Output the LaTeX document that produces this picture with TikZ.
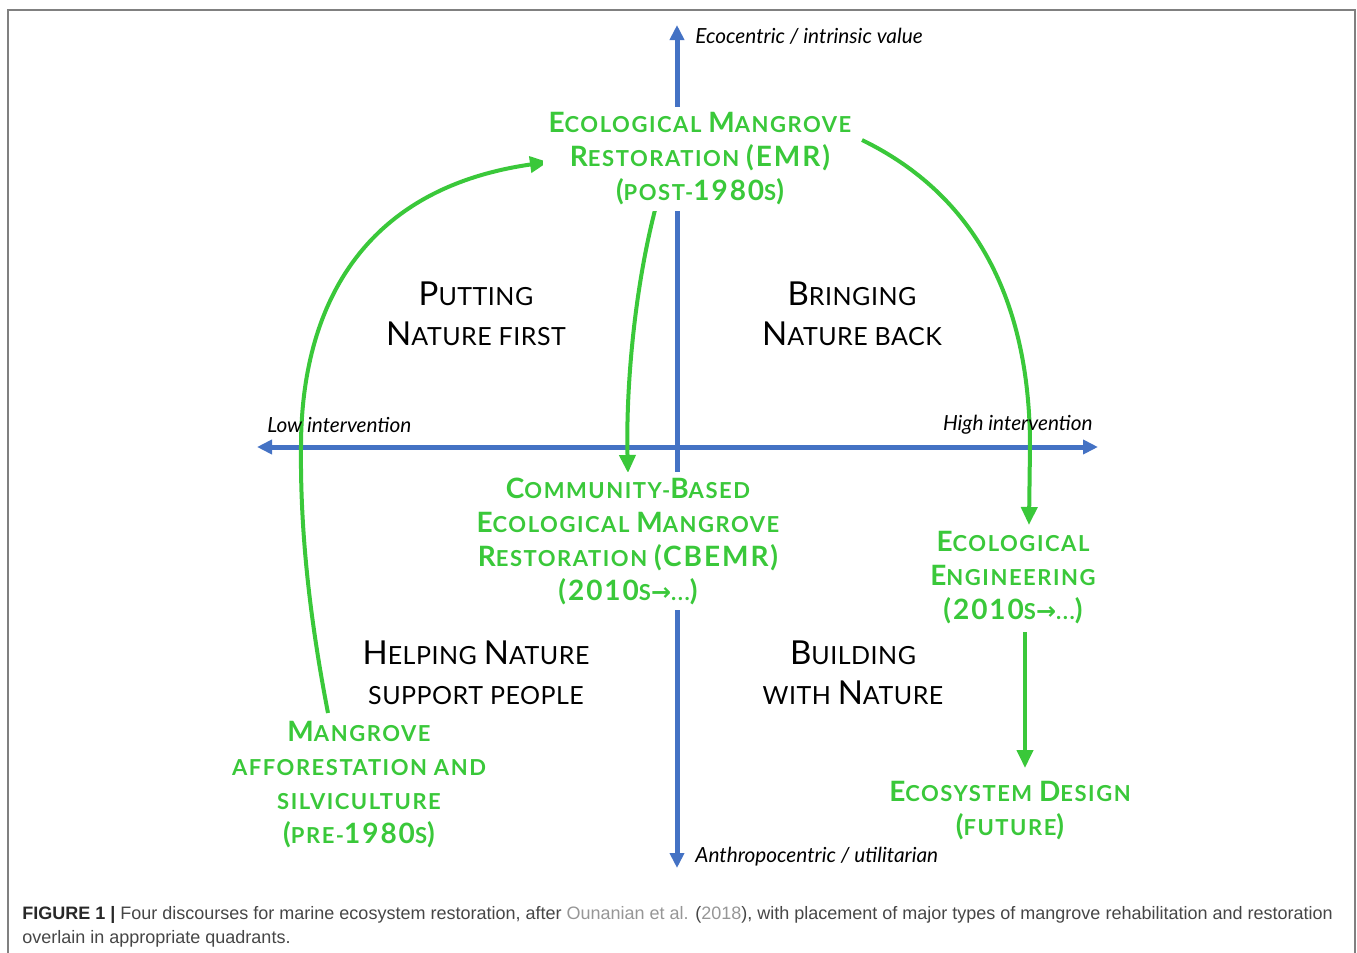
\documentclass[tikz,border=0pt]{standalone}
\usepackage{fontspec}
\setmainfont{Lato}
\newfontfamily\gfont[LetterSpace=7]{Lato}
\newfontfamily\kfont[LetterSpace=2]{Lato}
\newfontfamily\capfont{Liberation Sans}
\newfontfamily\arrfont{DejaVu Sans}
\usetikzlibrary{arrows.meta}
\definecolor{axblue}{RGB}{68,114,196}
\definecolor{mgreen}{RGB}{58,200,58}
\definecolor{frameg}{RGB}{128,128,128}
\definecolor{capdark}{RGB}{40,40,40}
\definecolor{capgray}{RGB}{70,70,70}
\definecolor{caplink}{RGB}{150,150,150}
\newcommand\Gb[1]{{\fontsize{14}{14}\selectfont #1}}
\newcommand\Kb[1]{{\fontsize{16.5}{16.5}\selectfont #1}}
\newcommand\Arr{{\fontsize{12}{12}\selectfont\arrfont\bfseries →}}
\tikzset{
  gtext/.style={text=mgreen, align=center, font=\gfont\fontsize{11}{17}\selectfont\bfseries, inner sep=3pt},
  ktext/.style={text=black, align=center, font=\kfont\fontsize{12.5}{20}\selectfont},
  axlabel/.style={text=black, font=\itshape\fontsize{10.4}{11}\selectfont, inner sep=0pt},
  axis/.style={draw=axblue, line width=2.5pt, -{Triangle[length=7.5pt,width=7pt]}},
  garrow/.style={draw=mgreen, line width=2pt, -{Triangle[length=9pt,width=8pt]}},
  captext/.style={font=\capfont\fontsize{9}{11}\selectfont, inner sep=0pt, text=capgray}
}
\begin{document}
\begin{tikzpicture}[x=0.5pt,y=-0.5pt]
\useasboundingbox (0,0) rectangle (1357,953);
% frame
\draw[frameg, line width=1pt] (8,953) -- (8,10) -- (1355,10) -- (1355,953);
% axes
\coordinate (axtop) at (677,25);
\coordinate (axbot) at (677,868);
\coordinate (axleft) at (257,447);
\coordinate (axright) at (1098,447);
\coordinate (axc) at (677,447);
\draw[axis] (axc) -- (axtop);
\draw[axis] (axc) -- (axbot);
\draw[axis] (axc) -- (axleft);
\draw[axis] (axc) -- (axright);
% green arrows (free ends as coordinates)
\coordinate (a1s) at (328,713);
\coordinate (a1m) at (301,447);
\coordinate (a1e) at (548,162);
\coordinate (a2s) at (862,140);
\coordinate (a2m) at (1030,447);
\coordinate (a2e) at (1029,525);
\coordinate (a3s) at (655,210);
\coordinate (a3e) at (628,473);
\coordinate (a4s) at (1025,632);
\coordinate (a4e) at (1025,768);
\draw[garrow] (a1s) .. controls (312,630) and (300,540) .. (a1m) .. controls (301,320) and (352,190) .. (a1e);
\draw[garrow] (a2s) .. controls (975,195) and (1030,300) .. (a2m) -- (a2e);
\draw[garrow] (a3s) .. controls (632,300) and (626,400) .. (a3e);
\draw[garrow] (a4s) -- (a4e);
% axis labels
\node[axlabel, anchor=west] (eco) at (695,36) {Ecocentric / intrinsic value};
\node[axlabel, anchor=west] (low) at (267,425) {Low intervention};
\node[axlabel, anchor=east] (high) at (1093,425) {High intervention};
\node[axlabel, anchor=west] (anth) at (695,857) {Anthropocentric / utilitarian};
% green nodes
\node[gtext, fill=white] (emr) at (700,159) {\Gb{E}COLOGICAL \Gb{M}ANGROVE\\\Gb{R}ESTORATION \Gb{(EMR)}\\\Gb{(}POST-\Gb{1980}S\Gb{)}};
\node[gtext, fill=white] (cbemr) at (628,541) {\Gb{C}OMMUNITY-\Gb{B}ASED\\\Gb{E}COLOGICAL \Gb{M}ANGROVE\\\Gb{R}ESTORATION \Gb{(CBEMR)}\\\Gb{(2010}S\Arr...\Gb{)}};
\node[gtext] (eeng) at (1013,578) {\Gb{E}COLOGICAL\\\Gb{E}NGINEERING\\\Gb{(2010}S\Arr...\Gb{)}};
\node[gtext] (edes) at (1010,811) {\Gb{E}COSYSTEM \Gb{D}ESIGN\\\Gb{(}FUTURE\Gb{)}};
\node[gtext] (maf) at (359,785) {\Gb{M}ANGROVE\\AFFORESTATION AND\\SILVICULTURE\\\Gb{(}PRE-\Gb{1980}S\Gb{)}};
% quadrant labels
\node[ktext] (pnf) at (476,314) {\Kb{P}UTTING\\\Kb{N}ATURE FIRST};
\node[ktext] (bnb) at (852,314) {\Kb{B}RINGING\\\Kb{N}ATURE BACK};
\node[ktext] (hnsp) at (476,673) {\Kb{H}ELPING \Kb{N}ATURE\\SUPPORT PEOPLE};
\node[ktext] (bwn) at (853,673) {\Kb{B}UILDING\\WITH \Kb{N}ATURE};
% caption
\node[captext, anchor=base west] (cap1) at (22,919) {{\bfseries\color{capdark}FIGURE 1 |} Four discourses for marine ecosystem restoration, after {\color{caplink}Ounanian et al.} ({\color{caplink}2018}), with placement of major types of mangrove rehabilitation and restoration};
\node[captext, anchor=base west] (cap2) at (22,943) {overlain in appropriate quadrants.};
\end{tikzpicture}
\end{document}
